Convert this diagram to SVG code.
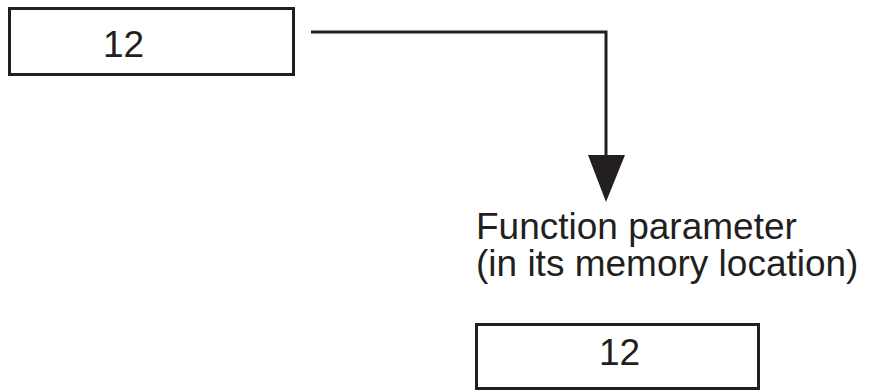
<svg xmlns="http://www.w3.org/2000/svg" width="870" height="391" viewBox="0 0 870 391">
<style>
.box{fill:#fff;stroke:#231f20;stroke-width:3}
.t{font-family:"Liberation Sans",Arial,sans-serif;font-size:37px;fill:#231f20}
.c{fill:none;stroke:#231f20;stroke-width:3}
</style>
<rect width="870" height="391" fill="#fff"/>
<g id="arg">
<rect class="box" x="9.5" y="8.5" width="284" height="66"/>
<text class="t" x="103" y="57">12</text>
</g>
<g id="param">
<text class="t" x="476" y="239">Function parameter</text>
<text class="t" x="476" y="276">(in its memory location)</text>
<rect class="box" x="476.5" y="324.5" width="282" height="64"/>
<text class="t" x="599" y="365">12</text>
</g>
<g id="connectors">
<polyline class="c" points="311,32 606,32 606,158"/>
<polygon points="588,155 625,155 606,202" fill="#231f20"/>
</g>
</svg>
